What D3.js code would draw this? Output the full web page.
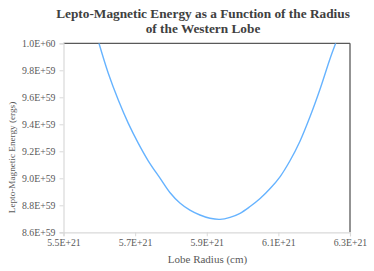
<!DOCTYPE html>
<html><head><meta charset="utf-8">
<script src="https://cdn.jsdelivr.net/npm/d3@7"></script>
<style>body{margin:0;background:#fff}svg{display:block}</style>
</head><body>
<svg id="c" width="374" height="271"></svg>
<script>
// Lobe radius (E+21 cm)
const radius = [5.599,5.625,5.653,5.681,5.709,5.737,5.770,5.797,5.825,5.853,5.881,5.909,5.937,5.965,5.993,6.021,6.049,6.077,6.105,6.132,6.160,6.188,6.216,6.244,6.260];
// Energy (E+59 ergs)
const energy = [10.0,9.778,9.580,9.407,9.259,9.128,8.999,8.895,8.817,8.764,8.728,8.704,8.696,8.711,8.741,8.791,8.850,8.924,9.013,9.128,9.273,9.454,9.658,9.884,10.0];
const xTicks = [5.5,5.7,5.9,6.1,6.3];
const xTickLabels = ["5.5E+21","5.7E+21","5.9E+21","6.1E+21","6.3E+21"];
const yTicks = [8.6,8.8,9.0,9.2,9.4,9.6,9.8,10.0];
const yTickLabels = ["8.6E+59","8.8E+59","9.0E+59","9.2E+59","9.4E+59","9.6E+59","9.8E+59","1.0E+60"];

const svg = d3.select("#c");
const L=63.5, R=350, T=43.3, B=232.3;
const x = d3.scaleLinear().domain([5.5,6.3]).range([L,R]);
const y = d3.scaleLinear().domain([8.6,10.0]).range([B,T]);
const font = "'Liberation Serif','Times New Roman',serif";

svg.append("line").attr("x1",L).attr("x2",R).attr("y1",T).attr("y2",T).attr("stroke","#595959").attr("stroke-width",1.3);
svg.append("line").attr("x1",R).attr("x2",R).attr("y1",T).attr("y2",B).attr("stroke","#595959").attr("stroke-width",1.3);

const xa = svg.append("g").attr("transform",`translate(0,${B})`)
  .call(d3.axisBottom(x).tickValues(xTicks).tickFormat((d,i)=>xTickLabels[i]).tickSize(4).tickPadding(3));
const ya = svg.append("g").attr("transform",`translate(${L},0)`)
  .call(d3.axisLeft(y).tickValues(yTicks).tickFormat((d,i)=>yTickLabels[i]).tickSize(4).tickPadding(4));
[xa,ya].forEach(a=>{
  a.select(".domain").attr("stroke","#d9d9d9").attr("stroke-width",1.2);
  a.selectAll(".tick line").attr("stroke","#d9d9d9");
  a.selectAll("text").attr("font-family",font).attr("font-size","9.8px").attr("fill","#595959");
});

svg.append("clipPath").attr("id","pc").append("rect").attr("x",L).attr("y",T).attr("width",R-L).attr("height",B-T);
const line = d3.line().x((d,i)=>x(radius[i])).y(d=>y(d)).curve(d3.curveCatmullRom.alpha(0.5));
svg.append("path").datum(energy).attr("d",line).attr("fill","none")
  .attr("stroke","#66b3ff").attr("stroke-width",1.4).attr("clip-path","url(#pc)");

svg.append("text").attr("x",203).attr("y",17.5).attr("text-anchor","middle")
  .attr("font-family",font).attr("font-weight","bold").attr("font-size","13.3px").attr("fill","#404040")
  .text("Lepto-Magnetic Energy as a Function of the Radius");
svg.append("text").attr("x",203).attr("y",32.5).attr("text-anchor","middle")
  .attr("font-family",font).attr("font-weight","bold").attr("font-size","13.3px").attr("fill","#404040")
  .text("of the Western Lobe");
svg.append("text").attr("x",207.5).attr("y",262.5).attr("text-anchor","middle")
  .attr("font-family",font).attr("font-size","11px").attr("fill","#595959").text("Lobe Radius (cm)");
svg.append("text").attr("transform","translate(15,157.5) rotate(-90)").attr("text-anchor","middle")
  .attr("font-family",font).attr("font-size","9.2px").attr("fill","#595959").text("Lepto-Magnetic Energy (ergs)");
</script>
</body></html>
